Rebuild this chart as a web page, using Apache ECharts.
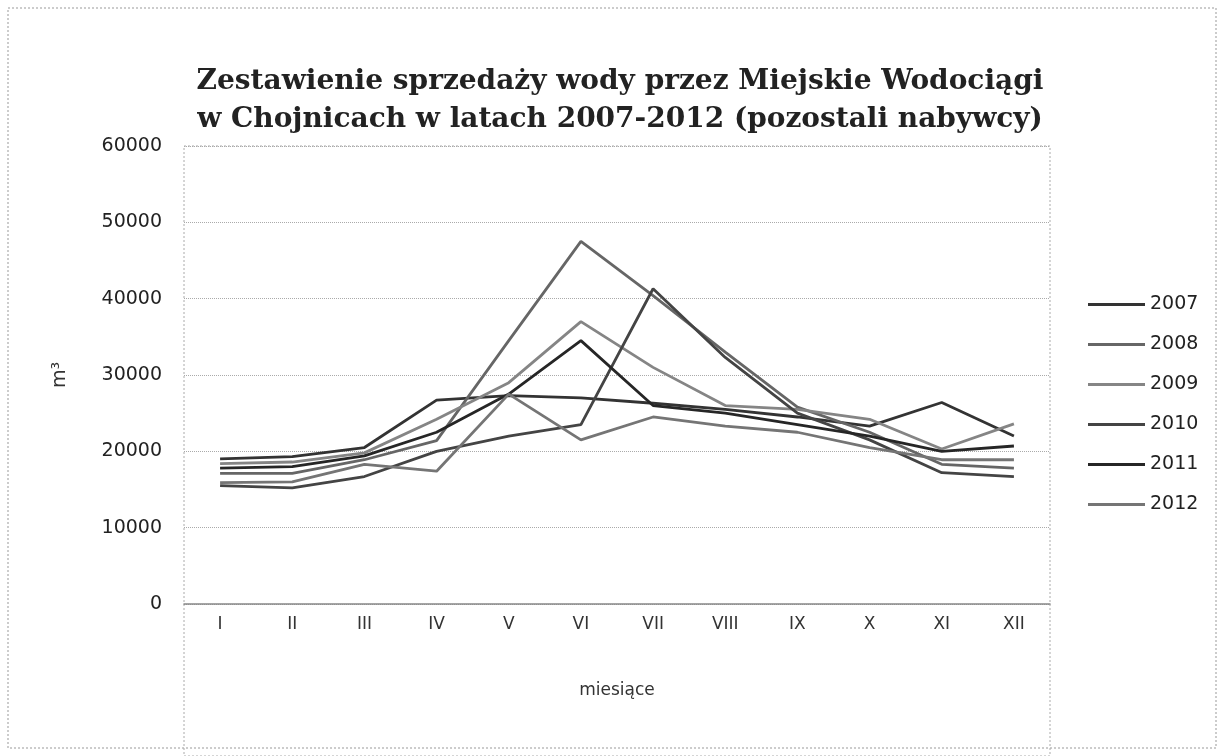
<!DOCTYPE html>
<html><head><meta charset="utf-8">
<script src="https://cdn.jsdelivr.net/npm/echarts@6/dist/echarts.min.js"></script>
<style>html,body{margin:0;padding:0;background:#fff}#c{width:1222px;height:756px}</style>
</head><body><div id="c"></div>
<script>
var months = ['I','II','III','IV','V','VI','VII','VIII','IX','X','XI','XII'];
var years = ['2007','2008','2009','2010','2011','2012'];
var y2007 = [19000,19300,20500,26700,27300,27000,26300,25500,24500,23300,26400,22000];
var y2008 = [17100,17100,18900,21400,34500,47500,40400,33000,25800,22500,18300,17800];
var y2009 = [18400,18600,19800,24200,29000,37000,31000,26000,25500,24200,20300,23600];
var y2010 = [15500,15200,16700,20000,22000,23500,41300,32300,25000,21500,17200,16700];
var y2011 = [17800,18000,19400,22500,27500,34500,26000,25000,23500,22000,20000,20700];
var y2012 = [15900,16000,18300,17400,27500,21500,24500,23300,22500,20500,18900,18900];
var yTicks = [0,10000,20000,30000,40000,50000,60000];

var seriesData = [y2007,y2008,y2009,y2010,y2011,y2012];
var colors = ['#333333','#666666','#858585','#444444','#262626','#757575'];

var chart = echarts.init(document.getElementById('c'), null, {renderer:'canvas'});
chart.setOption({
  backgroundColor:'#fff',
  animation:false,
  title:{
    text:'Zestawienie sprzedaży wody przez Miejskie Wodociągi\nw Chojnicach w latach 2007-2012 (pozostali nabywcy)',
    left:615, textAlign:'center', top:58,
    textStyle:{fontFamily:'DejaVu Serif', fontWeight:'bold', fontSize:28, lineHeight:38, color:'#222'}
  },
  legend:{
    orient:'vertical', left:1083, top:290,
    itemWidth:57, itemHeight:3, itemGap:21,
    icon:'rect',
    textStyle:{fontFamily:'DejaVu Sans', fontSize:19, color:'#222'},
    data:years
  },
  grid:{left:184, right:172, top:146, bottom:152},
  xAxis:{
    type:'category', data:months, boundaryGap:true,
    name:'miesiące', nameLocation:'middle', nameGap:78,
    nameTextStyle:{fontFamily:'DejaVu Sans', fontSize:17, color:'#333'},
    axisLine:{lineStyle:{color:'#888', width:1.5}},
    axisTick:{show:false},
    axisLabel:{fontFamily:'DejaVu Sans', fontSize:17, color:'#333', margin:12}
  },
  yAxis:{
    type:'value', min:yTicks[0], max:yTicks[yTicks.length-1], interval:10000,
    name:'m³', nameLocation:'middle', nameGap:114, nameRotate:90,
    nameTextStyle:{fontFamily:'DejaVu Sans', fontSize:19, color:'#333'},
    axisLine:{show:false}, axisTick:{show:false},
    axisLabel:{fontFamily:'DejaVu Sans', fontSize:19, color:'#222', margin:22,
      formatter:function(v){return String(v);}},
    splitLine:{lineStyle:{color:'#aaa', type:'dotted', width:1}}
  },
  series: seriesData.map(function(d,i){
    return {name:years[i], type:'line', data:d, symbol:'none', showSymbol:false,
      lineStyle:{width:2.8, color:colors[i]}, itemStyle:{color:colors[i]}};
  }),
  graphic:[
    {type:'rect', shape:{x:8,y:8,width:1208,height:740}, style:{fill:'none', stroke:'#999', lineWidth:1, lineDash:[2,2]}, silent:true},
    {type:'rect', shape:{x:184,y:146,width:866,height:610}, style:{fill:'none', stroke:'#aaa', lineWidth:1, lineDash:[2,2]}, silent:true}
  ]
});
</script></body></html>
